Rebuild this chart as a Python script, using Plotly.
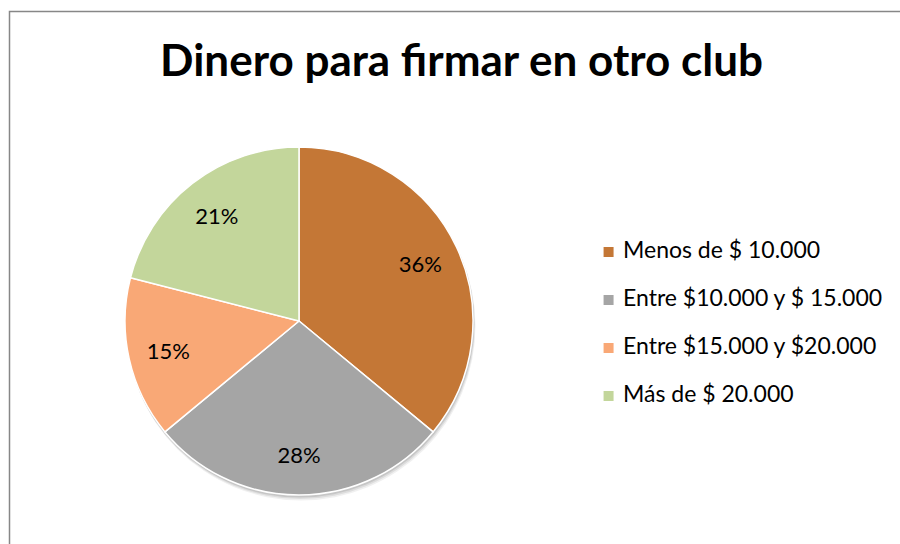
import plotly.graph_objects as go

categories = ["Menos de $ 10.000", "Entre $10.000 y $ 15.000", "Entre $15.000 y $20.000", "Más de $ 20.000"]
values = [36, 28, 15, 21]
colors = ["#C47736", "#A5A5A5", "#F9A876", "#C3D69B"]
title_text = "Dinero para firmar en otro club"

W, H = 900, 544
cx, cy, r = 299, 321, 174


def dom(cx_, cy_, rr):
    return dict(x=[(cx_ - rr) / W, (cx_ + rr) / W], y=[(H - cy_ - rr) / H, (H - cy_ + rr) / H])


fig = go.Figure()
# soft shadow behind the pie
for dy, a in [(5, 0.06), (3.5, 0.08), (2, 0.10)]:
    fig.add_trace(go.Pie(
        values=[sum(values)], labels=["shadow"], sort=False, textinfo="none",
        marker=dict(colors=[f"rgba(0,0,0,{a})"], line=dict(width=0)),
        domain=dom(cx + dy * 0.4, cy + dy, r + 0.5), showlegend=False, hoverinfo="skip",
    ))

# the pie itself
fig.add_trace(go.Pie(
    labels=categories, values=values, sort=False, direction="clockwise", rotation=0,
    marker=dict(colors=colors, line=dict(color="white", width=1.5)),
    textinfo="none", domain=dom(cx, cy, r), showlegend=False, hoverinfo="label+percent",
))
# percentage labels placed in a transparent ring so they sit towards the rim
fig.add_trace(go.Pie(
    labels=categories, values=values, sort=False, direction="clockwise", rotation=0,
    hole=0.54, marker=dict(colors=["rgba(0,0,0,0)"] * 4, line=dict(width=0)),
    textinfo="percent", textposition="inside", insidetextorientation="horizontal",
    textfont=dict(family="Lato", size=22, color="black"),
    domain=dom(cx, cy, r), showlegend=False, hoverinfo="skip",
))

# legend drawn as scatter traces in their own axes
fig.add_trace(go.Scatter(
    x=[0] * len(categories), y=categories, mode="markers",
    marker=dict(symbol="square", size=10, color=colors, line=dict(width=0)),
    xaxis="x2", yaxis="y2", showlegend=False, hoverinfo="skip", cliponaxis=False,
))
fig.add_trace(go.Scatter(
    x=[0] * len(categories), y=categories, mode="text",
    text=categories, textposition="middle right",
    textfont=dict(family="Lato", size=23, color="black"),
    xaxis="x3", yaxis="y2", showlegend=False, hoverinfo="skip", cliponaxis=False,
))

fig.update_layout(
    width=W, height=H, margin=dict(l=0, r=0, t=0, b=0),
    paper_bgcolor="white", plot_bgcolor="rgba(0,0,0,0)",
    title=dict(text="<b>" + title_text + "</b>", x=461.5 / W, xanchor="center",
               y=1 - 61 / H, yanchor="middle",
               font=dict(family="Lato", size=44, color="black")),
    xaxis2=dict(domain=[594 / W, 1.0], range=[-0.5, 10], visible=False, fixedrange=True),
    xaxis3=dict(domain=[623 / W, 1.0], range=[0, 10], visible=False, fixedrange=True),
    yaxis2=dict(domain=[(H - 420) / H, (H - 228) / H], range=[3.5, -0.5], type="category",
                visible=False, fixedrange=True, anchor="x2"),
    shapes=[dict(type="rect", xref="paper", yref="paper",
                 x0=9.5 / W, x1=1.02, y0=-0.02, y1=1 - 11.5 / H,
                 line=dict(color="#878787", width=1.5), layer="below")],
)

fig.write_html("out.html", config={"displayModeBar": False},
               post_script="document.body.style.margin='0px';")
